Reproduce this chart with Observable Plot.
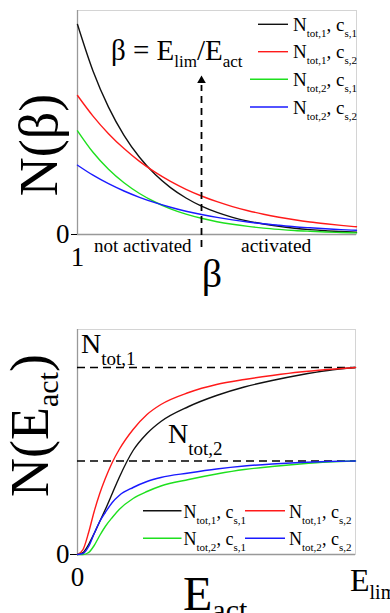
<!DOCTYPE html>
<html>
<head>
<meta charset="utf-8">
<script src="https://cdn.jsdelivr.net/npm/d3@7"></script>
<script src="https://cdn.jsdelivr.net/npm/@observablehq/plot@0.6"></script>
<style>
  html, body { margin: 0; padding: 0; background: #fff; }
  body { width: 390px; height: 613px; position: relative; overflow: hidden; }
  #top, #bottom { position: absolute; left: 0; }
  #top { top: 0; }
  #bottom { top: 300px; }
</style>
</head>
<body>
<div id="top"></div>
<div id="bottom"></div>
<script>
const SERIF = '"Liberation Serif", "DejaVu Serif", "Times New Roman", serif';

// ---------- series ----------
const seriesKeys = ["tot1_s1", "tot1_s2", "tot2_s1", "tot2_s2"];
const seriesColors = ["#111111", "#ff1a1a", "#1ee01e", "#1a1aff"];
const nSub = ["tot,1", "tot,1", "tot,2", "tot,2"];
const cSub = ["s,1", "s,2", "s,1", "s,2"];

// ---------- top panel: N(beta) ----------
const betaValues = [1, 1.5, 2, 2.5, 3, 3.5, 4, 4.5, 5, 5.5, 6, 6.5, 7, 7.5, 8, 8.5, 9, 9.5, 10];
const nBeta_tot1_s1 = [210, 163.5, 127.4, 99.2, 77.3, 60.2, 46.9, 36.5, 28.4, 22.1, 17.2, 13.4, 10.5, 8.1, 6.3, 4.9, 3.8, 3.0, 2.3];
const nBeta_tot1_s2 = [139, 118.4, 100.8, 85.9, 73.1, 62.3, 53.1, 45.2, 38.5, 32.8, 27.9, 23.8, 20.3, 17.3, 14.7, 12.5, 10.7, 9.1, 7.7];
const nBeta_tot2_s1 = [103.7, 82.2, 65.2, 51.7, 41.0, 32.5, 25.7, 20.4, 16.2, 12.8, 10.2, 8.1, 6.4, 5.1, 4.0, 3.2, 2.5, 2.0, 1.6];
const nBeta_tot2_s2 = [69.3, 59.3, 50.8, 43.5, 37.2, 31.8, 27.2, 23.3, 20.0, 17.1, 14.6, 12.5, 10.7, 9.2, 7.8, 6.7, 5.7, 4.9, 4.2];
const betaDomain = [1, 10];
const nBetaDomain = [0, 224];
const betaThreshold = [5];          // beta = E_lim / E_act marker
const arrowSpan = [-13, 149, 154];  // dashed arrow: bottom, top, head (N units)

// ---------- bottom panel: N(E_act) ----------
const eValues = [0, 0.02, 0.04, 0.06, 0.08, 0.1, 0.125, 0.15, 0.2, 0.25, 0.3, 0.4, 0.5, 0.6, 0.7, 0.8, 0.9, 1];
const nE_tot1_s1 = [0, 2, 10, 21, 33, 45, 61, 77, 104, 121, 133, 148, 159, 167.5, 174, 179.5, 184, 187];
const nE_tot1_s2 = [0, 5, 22, 43, 61, 76, 92, 105, 125, 140, 150, 162, 170, 175, 179, 182.5, 185, 187];
const nE_tot2_s1 = [0, 0, 2, 9, 19, 28, 37, 45, 56, 63, 68.5, 75, 80.5, 85, 88, 90.5, 92.5, 93.5];
const nE_tot2_s2 = [0, 1, 8, 21, 33, 42, 52, 59, 67, 73, 77, 81.5, 85.5, 88.5, 90.5, 92, 93, 93.5];
const nTotLevels = [187, 93.5];
const eDomain = [0, 1];
const nEDomain = [0, 225];

// ---------- build tables ----------
const topSeries = [nBeta_tot1_s1, nBeta_tot1_s2, nBeta_tot2_s1, nBeta_tot2_s2];
const botSeries = [nE_tot1_s1, nE_tot1_s2, nE_tot2_s1, nE_tot2_s2];
const topTable = topSeries.map((arr, s) => arr.map((n, i) => ({x: betaValues[i], n, series: seriesKeys[s]})));
const botTable = botSeries.map((arr, s) => arr.map((n, i) => ({x: eValues[i], n, series: seriesKeys[s]})));

// ---------- rich-text overlay (subscripts) ----------
function overlay(texts, swatches) {
  return () => {
    const g = d3.create("svg:g");
    for (const s of swatches) {
      g.append("line").attr("x1", s.x1).attr("x2", s.x2).attr("y1", s.y).attr("y2", s.y)
        .attr("stroke", s.color).attr("stroke-width", 1.4);
    }
    for (const t of texts) {
      const el = g.append("text")
        .attr("font-family", SERIF).attr("fill", "#000")
        .attr("text-anchor", t.anchor || "start")
        .attr("transform", `translate(${t.x},${t.y})` + (t.rotate ? ` rotate(${t.rotate})` : ""));
      let cur = 0;
      for (const [str, size, shift] of t.parts) {
        el.append("tspan").attr("font-size", size).attr("dy", shift - cur).text(str);
        cur = shift;
      }
    }
    return g.node();
  };
}
const legendParts = (i, big, small, sh) => [["N", big, 0], [nSub[i], small, sh], [", c", big, 0], [cSub[i], small, sh]];

// ---------- top plot ----------
const topLegendY = [24.3, 51.7, 79.3, 107];
const topLegendX1 = [258, 258, 250, 250];
const topPlot = Plot.plot({
  width: 390, height: 300,
  marginLeft: 77, marginRight: 34, marginTop: 10, marginBottom: 66,
  style: {fontFamily: SERIF, fontSize: "27px", color: "#000", background: "#fff"},
  x: {domain: betaDomain, ticks: [1], tickFormat: d => String(d), tickSize: 0, tickPadding: 12, label: null},
  y: {domain: nBetaDomain, ticks: [0], tickFormat: d => String(d), tickSize: 6, tickPadding: 2, label: null},
  marks: [
    Plot.frame({stroke: "#d4d4d4"}),
    Plot.ruleX([betaDomain[0]], {stroke: "#999", strokeWidth: 1.3}),
    Plot.ruleY([0], {stroke: "#999", strokeWidth: 1.3}),
    ...topTable.map((rows, s) => Plot.line(rows, {x: "x", y: "n", stroke: seriesColors[s], strokeWidth: 1.4, curve: "monotone-x"})),
    Plot.ruleX(betaThreshold, {y1: arrowSpan[0], y2: arrowSpan[1], stroke: "#000", strokeWidth: 1.8, strokeDasharray: "7,5"}),
    Plot.dot(betaThreshold, {x: d => d, y: arrowSpan[2], symbol: "triangle", fill: "#000", stroke: "none", r: 3.2}),
    overlay([
      {x: 57, y: 145, rotate: -90, anchor: "middle", parts: [["N(β)", 54, 0]]},
      {x: 111, y: 60, parts: [["β = E", 29, 0], ["lim", 17, 7], ["/E", 29, 0], ["act", 17, 7]]},
      {x: 94, y: 252, parts: [["not activated", 19, 0]]},
      {x: 241, y: 252, parts: [["activated", 19.5, 0]]},
      {x: 212, y: 287, anchor: "middle", parts: [["β", 40, 0]]},
      ...seriesKeys.map((k, i) => ({x: 293, y: topLegendY[i] + 6.5, parts: legendParts(i, 19, 11, 6)}))
    ], seriesKeys.map((k, i) => ({x1: topLegendX1[i], x2: 288, y: topLegendY[i], color: seriesColors[i]})))
  ]
});
document.getElementById("top").append(topPlot);

// ---------- bottom plot ----------
const botLegendRows = [210.7, 238.3];
const botLegendCols = [[143, 181.5, 183.5], [245, 285, 289]];
const botPlot = Plot.plot({
  width: 390, height: 313,
  marginLeft: 77, marginRight: 35, marginTop: 29, marginBottom: 59,
  style: {fontFamily: SERIF, fontSize: "27px", color: "#000", background: "#fff"},
  x: {domain: eDomain, ticks: [0], tickFormat: d => String(d), tickSize: 0, tickPadding: 12, label: null},
  y: {domain: nEDomain, ticks: [0], tickFormat: d => String(d), tickSize: 7, tickPadding: 1, label: null},
  marks: [
    Plot.frame({stroke: "#d4d4d4"}),
    Plot.ruleX([eDomain[0]], {stroke: "#999", strokeWidth: 1.3}),
    Plot.ruleY([0], {stroke: "#999", strokeWidth: 1.3}),
    Plot.ruleY(nTotLevels, {stroke: "#000", strokeWidth: 1.7, strokeDasharray: "8,5"}),
    ...botTable.map((rows, s) => Plot.line(rows, {x: "x", y: "n", stroke: seriesColors[s], strokeWidth: 1.4, curve: "monotone-x"})),
    overlay([
      {x: 48, y: 197, rotate: -90, parts: [["N(E", 54, 0], ["act", 30, 10], [")", 54, 0]]},
      {x: 183, y: 310, parts: [["E", 48, 0], ["act", 30, 10]]},
      {x: 350, y: 291, parts: [["E", 32, 0], ["lim", 20, 8]]},
      {x: 81, y: 53, parts: [["N", 28, 0], ["tot,1", 19, 12]]},
      {x: 168, y: 143, parts: [["N", 28, 0], ["tot,2", 19, 12]]},
      ...seriesKeys.map((k, i) => ({x: botLegendCols[i % 2][2], y: botLegendRows[Math.floor(i / 2)] + 7, parts: legendParts(i, 18, 11, 6)}))
    ], seriesKeys.map((k, i) => ({x1: botLegendCols[i % 2][0], x2: botLegendCols[i % 2][1], y: botLegendRows[Math.floor(i / 2)], color: seriesColors[i]})))
  ]
});
document.getElementById("bottom").append(botPlot);
</script>
</body>
</html>
